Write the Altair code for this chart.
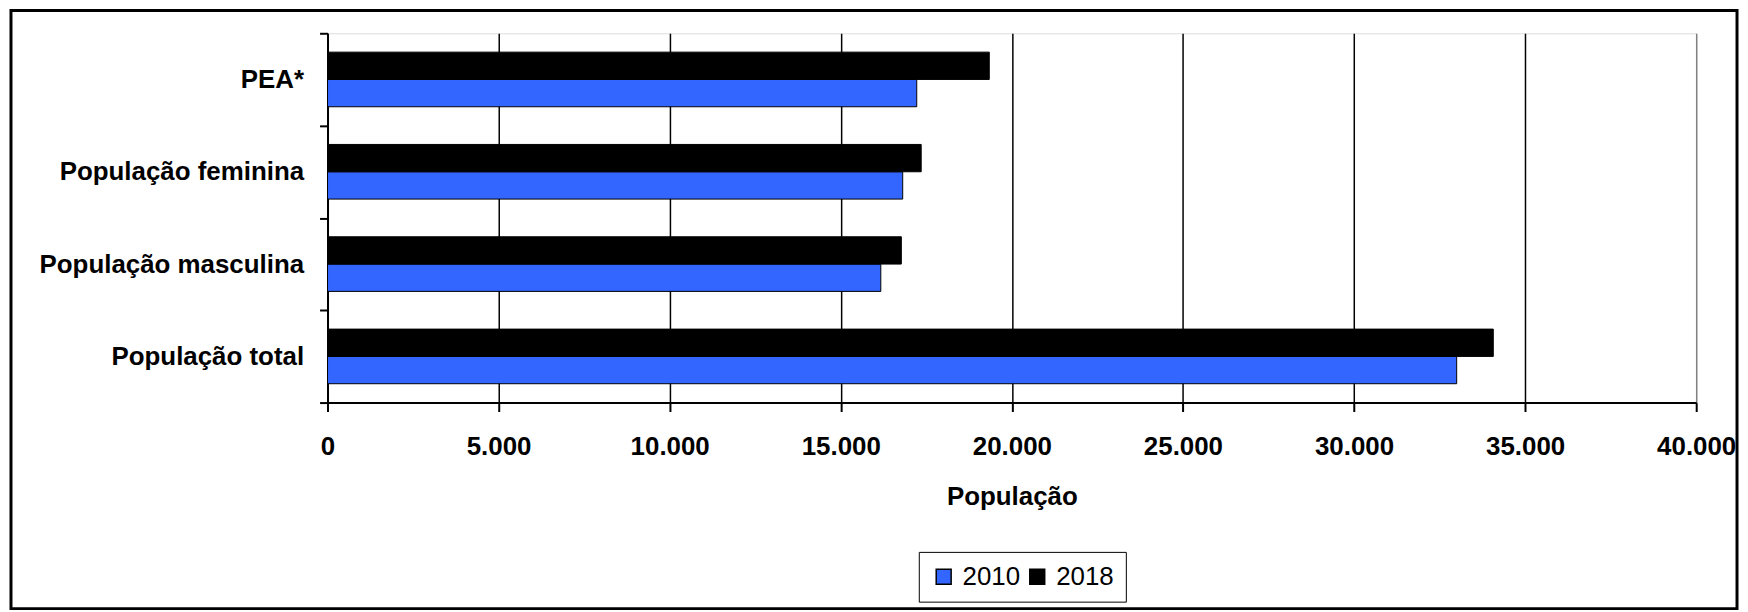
import altair as alt
import pandas as pd

categories = ["PEA*", "População feminina", "População masculina", "População total"]
years = ["2010", "2018"]
values_2010 = [17220, 16810, 16170, 33000]
values_2018 = [19340, 17350, 16770, 34070]
x_ticks = [0, 5000, 10000, 15000, 20000, 25000, 30000, 35000, 40000]

rows = []
for c, v in zip(categories, values_2010):
    rows.append({"cat": c, "year": "2010", "value": v})
for c, v in zip(categories, values_2018):
    rows.append({"cat": c, "year": "2018", "value": v})
df = pd.DataFrame(rows)

FONT = "Liberation Sans"

bars = alt.Chart(df).mark_bar(stroke="black", strokeWidth=1).encode(
    x=alt.X(
        "value:Q",
        scale=alt.Scale(domain=[0, 40000], nice=False),
        axis=alt.Axis(
            values=x_ticks,
            title="População",
            labelExpr="replace(format(datum.value, ',d'), ',', '.')",
            labelFont=FONT, labelFontSize=26, labelFontWeight="bold", labelColor="black",
            titleFont=FONT, titleFontSize=26, titleFontWeight="bold", titleColor="black",
            tickSize=9, tickColor="black", tickWidth=2,
            domainColor="black", domainWidth=2,
            grid=True,
            gridColor=alt.condition("datum.value >= 40000", alt.value("#808080"), alt.value("black")),
            gridWidth=1.5,
            labelPadding=22, titlePadding=24,
            labelFlush=False,
        ),
    ),
    y=alt.Y(
        "cat:N",
        sort=categories,
        scale=alt.Scale(paddingInner=0, paddingOuter=0),
        axis=alt.Axis(
            title=None,
            labelFont=FONT, labelFontSize=26, labelFontWeight="bold", labelColor="black",
            labelLimit=500,
            tickSize=8, tickColor="black", tickWidth=2, tickBand="extent",
            domainColor="black", domainWidth=2,
            grid=False, labelPadding=16,
        ),
    ),
    yOffset=alt.YOffset("year:N", sort=["2018", "2010"], scale=alt.Scale(paddingOuter=0.69, paddingInner=0)),
    color=alt.Color(
        "year:N",
        sort=years,
        scale=alt.Scale(domain=years, range=["#3366FF", "#000000"]),
        legend=alt.Legend(
            title=None,
            orient="none",
            direction="horizontal",
            legendX=594, legendY=521,
            symbolType="square", symbolSize=225,
            symbolStrokeColor="black", symbolStrokeWidth=1.5,
            labelFont=FONT, labelFontSize=26, labelColor="black",
            labelOffset=6, columnPadding=4,
            padding=12, strokeColor="black",
        ),
    ),
)

border = alt.Chart(pd.DataFrame({"b": [0]})).mark_rect(
    fill=None, stroke="black", strokeWidth=3, clip=False
).encode(
    x=alt.value(-318), x2=alt.value(1416), y=alt.value(-23), y2=alt.value(578)
)

chart = alt.layer(bars, border).properties(
    width=1375, height=371,
    padding={"left": 321, "top": 24, "right": 44, "bottom": 209},
    autosize=alt.AutoSizeParams(type="none"),
).configure_view(
    stroke="#808080", strokeWidth=2
).configure_legend(
    strokeWidth=2
).configure(background="white")

chart.save("out.html", embed_options={"renderer": "svg", "actions": False})
